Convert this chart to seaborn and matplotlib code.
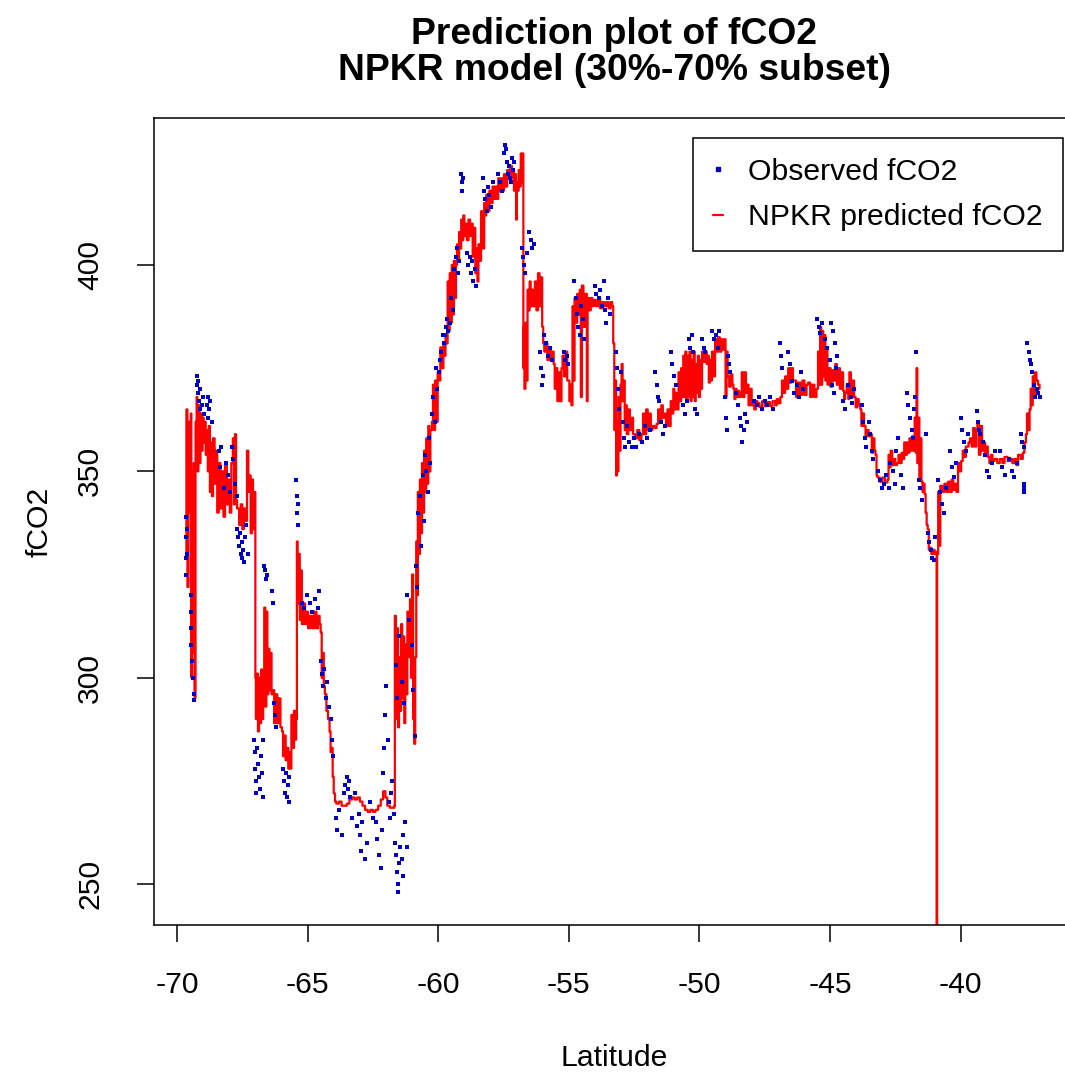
import matplotlib
matplotlib.use("Agg")
import matplotlib.pyplot as plt
from matplotlib.lines import Line2D
import seaborn as sns
import pandas as pd

# ---------------- data ----------------
x_ticks = [-70, -65, -60, -55, -50, -45, -40]
y_ticks = [250, 300, 350, 400]
title_text = "Prediction plot of fCO2\nNPKR model (30%-70% subset)"
x_label = "Latitude"
y_label = "fCO2"
legend_labels = ["Observed fCO2", "NPKR predicted fCO2"]

# NPKR predicted fCO2 (latitude, fCO2), in drawing order
pred_seg1 = [
    (-69.66, 330), (-69.64, 365), (-69.60, 322), (-69.56, 362), (-69.52, 340), (-69.47, 364),
    (-69.45, 300), (-69.43, 350), (-69.40, 306), (-69.36, 352), (-69.33, 295), (-69.29, 362),
    (-69.25, 368), (-69.22, 350), (-69.18, 366), (-69.14, 352), (-69.10, 364), (-69.06, 355),
    (-69.02, 363), (-68.98, 357), (-68.94, 362), (-68.90, 354), (-68.86, 360), (-68.82, 350),
    (-68.78, 361), (-68.74, 345), (-68.70, 357), (-68.66, 344), (-68.62, 358), (-68.56, 347),
    (-68.52, 355), (-68.46, 340), (-68.40, 352), (-68.34, 341), (-68.28, 350), (-68.22, 339),
    (-68.16, 352), (-68.09, 342), (-68.04, 348), (-67.98, 340), (-67.92, 352), (-67.86, 358),
    (-67.82, 342), (-67.78, 359), (-67.74, 343), (-67.70, 341), (-67.62, 337), (-67.56, 342),
    (-67.50, 336), (-67.44, 341), (-67.38, 338), (-67.32, 355), (-67.27, 345), (-67.22, 349),
    (-67.18, 335), (-67.13, 348), (-67.09, 336), (-67.04, 345), (-67.00, 300),
]
pred_seg2 = [
    (-66.98, 290), (-66.94, 301), (-66.90, 287), (-66.86, 300), (-66.82, 289), (-66.78, 302),
    (-66.74, 290), (-66.70, 300), (-66.66, 317), (-66.62, 293), (-66.58, 316), (-66.54, 296),
    (-66.50, 307), (-66.46, 297), (-66.42, 306), (-66.38, 296), (-66.33, 297), (-66.28, 289),
    (-66.22, 296), (-66.16, 289), (-66.10, 295), (-66.04, 288), (-65.98, 287), (-65.94, 281),
    (-65.90, 286), (-65.84, 280), (-65.80, 283), (-65.74, 278), (-65.70, 282), (-65.66, 278),
    (-65.62, 291), (-65.56, 283), (-65.52, 292), (-65.48, 285), (-65.44, 290), (-65.41, 333),
    (-65.38, 318), (-65.34, 330), (-65.30, 314), (-65.26, 326), (-65.22, 313), (-65.16, 318),
    (-65.10, 313), (-65.04, 316), (-64.98, 312), (-64.90, 315), (-64.82, 312), (-64.74, 316),
    (-64.66, 312), (-64.60, 315), (-64.54, 313), (-64.50, 311), (-64.46, 300), (-64.42, 306),
    (-64.38, 298), (-64.34, 296), (-64.28, 292), (-64.22, 290), (-64.16, 287), (-64.12, 282),
    (-64.08, 283), (-64.04, 276), (-64.00, 272), (-63.95, 270),
]
pred_seg3 = [
    (-63.90, 269.5), (-63.80, 270), (-63.70, 269), (-63.60, 269), (-63.50, 269.5), (-63.40, 270.5),
    (-63.30, 271), (-63.20, 270.5), (-63.10, 271), (-63.00, 270), (-62.90, 269), (-62.80, 268),
    (-62.70, 267.5), (-62.60, 268), (-62.50, 267.5), (-62.40, 268), (-62.30, 269), (-62.20, 270.5),
    (-62.11, 272.5), (-62.02, 271), (-61.95, 269), (-61.85, 268.5), (-61.75, 268.5), (-61.68, 269),
    (-61.66, 315), (-61.62, 290), (-61.58, 312), (-61.54, 288), (-61.50, 305), (-61.46, 292),
    (-61.42, 313), (-61.38, 295), (-61.34, 310), (-61.30, 289), (-61.26, 308), (-61.22, 296),
    (-61.18, 316), (-61.12, 305), (-61.08, 319), (-61.04, 300), (-61.00, 325), (-60.96, 290),
    (-60.92, 284), (-60.88, 305), (-60.84, 333), (-60.81, 320), (-60.78, 345), (-60.74, 330),
    (-60.70, 348), (-60.66, 335), (-60.62, 352), (-60.58, 340), (-60.54, 355), (-60.50, 345),
    (-60.46, 358), (-60.42, 347), (-60.38, 361), (-60.34, 350), (-60.30, 360), (-60.24, 362),
    (-60.20, 371), (-60.16, 360), (-60.12, 372), (-60.06, 362), (-60.02, 374), (-59.96, 372),
    (-59.92, 380), (-59.86, 375), (-59.80, 381), (-59.76, 378), (-59.72, 383), (-59.68, 381),
]
pred_seg4 = [
    (-59.64, 396), (-59.60, 384), (-59.56, 398), (-59.52, 386), (-59.48, 400), (-59.44, 388),
    (-59.40, 401), (-59.36, 392), (-59.32, 400), (-59.28, 405), (-59.24, 401), (-59.20, 408),
    (-59.16, 404), (-59.12, 411), (-59.08, 406), (-59.04, 412), (-59.00, 407), (-58.94, 410),
    (-58.90, 406), (-58.84, 411), (-58.78, 407), (-58.72, 410), (-58.68, 402), (-58.64, 409),
    (-58.58, 398), (-58.54, 404), (-58.50, 396), (-58.46, 405), (-58.40, 401), (-58.36, 413),
    (-58.30, 404), (-58.24, 415), (-58.20, 412), (-58.16, 417), (-58.10, 413), (-58.04, 418),
    (-57.98, 415), (-57.92, 419), (-57.86, 416), (-57.80, 419), (-57.74, 416), (-57.70, 421),
    (-57.64, 418), (-57.58, 421), (-57.52, 418), (-57.48, 422), (-57.42, 419), (-57.36, 423),
    (-57.30, 421), (-57.24, 424), (-57.18, 421), (-57.14, 423), (-57.10, 418), (-57.06, 422),
    (-57.02, 411), (-56.99, 420), (-56.96, 418), (-56.92, 423), (-56.88, 419), (-56.84, 427),
    (-56.80, 420), (-56.76, 427), (-56.74, 375), (-56.72, 385), (-56.70, 370), (-56.66, 386),
    (-56.62, 372), (-56.58, 394), (-56.54, 389), (-56.50, 396), (-56.46, 390), (-56.42, 394),
    (-56.36, 390), (-56.30, 396), (-56.24, 389), (-56.18, 398), (-56.12, 390), (-56.06, 397),
    (-56.02, 385), (-55.98, 381), (-55.94, 379), (-55.88, 381), (-55.82, 377), (-55.76, 380),
    (-55.70, 377), (-55.64, 379), (-55.58, 376), (-55.54, 370), (-55.50, 375), (-55.44, 367),
    (-55.40, 374), (-55.34, 367), (-55.28, 375), (-55.24, 378), (-55.18, 373), (-55.12, 379),
    (-55.06, 372), (-55.02, 372), (-54.98, 367), (-54.94, 371), (-54.90, 366), (-54.86, 390),
    (-54.82, 372), (-54.78, 392), (-54.74, 386), (-54.68, 393), (-54.62, 388), (-54.58, 394),
    (-54.54, 368), (-54.50, 395), (-54.44, 385), (-54.38, 393), (-54.31, 367), (-54.28, 392),
    (-54.22, 389), (-54.16, 392), (-54.10, 390), (-54.04, 391.5), (-53.96, 390), (-53.88, 392),
    (-53.80, 389.5), (-53.72, 391), (-53.64, 390), (-53.56, 391), (-53.48, 389.5), (-53.40, 391),
    (-53.34, 390), (-53.30, 381), (-53.26, 360), (-53.22, 372), (-53.19, 349), (-53.16, 362),
    (-53.13, 350), (-53.10, 368), (-53.06, 355),
]
pred_seg5 = [
    (-53.02, 371), (-52.98, 376), (-52.94, 367), (-52.90, 372), (-52.86, 360), (-52.82, 366),
    (-52.78, 359), (-52.72, 365), (-52.66, 360), (-52.60, 363), (-52.54, 359), (-52.46, 358),
    (-52.38, 360), (-52.30, 357.5), (-52.22, 359), (-52.16, 364), (-52.10, 359), (-52.04, 365),
    (-51.98, 360), (-51.92, 364), (-51.86, 360), (-51.80, 361), (-51.72, 360.5), (-51.64, 361.5),
    (-51.58, 365), (-51.52, 362), (-51.46, 366), (-51.40, 363), (-51.34, 364), (-51.28, 361),
    (-51.22, 365), (-51.16, 361), (-51.10, 367), (-51.06, 364), (-51.00, 370), (-50.96, 365),
    (-50.92, 369), (-50.86, 365), (-50.80, 374), (-50.76, 367), (-50.70, 375), (-50.66, 368),
    (-50.62, 378), (-50.58, 368), (-50.54, 379), (-50.50, 367), (-50.46, 378), (-50.42, 368),
    (-50.38, 379), (-50.34, 367), (-50.30, 377), (-50.26, 368), (-50.22, 379), (-50.18, 367),
    (-50.14, 376), (-50.10, 369), (-50.06, 378), (-50.02, 368), (-49.98, 377), (-49.94, 370),
    (-49.90, 379), (-49.84, 376.5), (-49.78, 379), (-49.72, 376), (-49.68, 378), (-49.64, 371.5),
    (-49.60, 377), (-49.56, 372), (-49.52, 379), (-49.46, 373), (-49.40, 382), (-49.34, 379),
    (-49.28, 382.5), (-49.22, 379), (-49.16, 382), (-49.10, 379.5), (-49.04, 382), (-49.00, 368),
    (-48.96, 379), (-48.92, 373), (-48.86, 370.5), (-48.80, 373.5), (-48.74, 371), (-48.70, 370),
    (-48.66, 367.5), (-48.62, 370), (-48.58, 368), (-48.54, 369.5), (-48.48, 368), (-48.42, 369),
    (-48.38, 374), (-48.34, 368), (-48.28, 374), (-48.22, 369), (-48.18, 371), (-48.12, 366),
    (-48.06, 370), (-48.00, 366), (-47.96, 366.5), (-47.90, 365), (-47.84, 367), (-47.78, 366.5),
    (-47.70, 365.6), (-47.60, 367), (-47.50, 365.8), (-47.40, 366.8), (-47.30, 365.8), (-47.20, 367),
    (-47.10, 366), (-47.04, 367.5), (-46.98, 366.5), (-46.90, 368), (-46.84, 372), (-46.78, 369),
    (-46.72, 373), (-46.66, 370), (-46.60, 375), (-46.54, 371.5), (-46.48, 375), (-46.42, 372),
    (-46.38, 372), (-46.30, 368), (-46.22, 371.5), (-46.14, 368.5), (-46.06, 372), (-45.98, 368.5),
    (-45.90, 371), (-45.84, 371.5), (-45.76, 368), (-45.68, 371), (-45.60, 368), (-45.52, 370),
    (-45.46, 379), (-45.42, 371), (-45.38, 385), (-45.34, 371), (-45.30, 384), (-45.26, 373),
    (-45.22, 383), (-45.18, 372), (-45.14, 380), (-45.10, 371), (-45.04, 375), (-44.98, 370.5),
    (-44.92, 374.5), (-44.86, 372), (-44.80, 376), (-44.74, 371), (-44.68, 375), (-44.62, 370),
    (-44.56, 374), (-44.50, 369.5), (-44.46, 367.5), (-44.42, 369), (-44.36, 371), (-44.30, 367.5),
    (-44.26, 374), (-44.20, 368), (-44.14, 372), (-44.08, 368), (-44.02, 365.5), (-43.96, 367.5),
    (-43.90, 366),
]
pred_seg6 = [
    (-43.84, 365), (-43.80, 361), (-43.76, 364), (-43.70, 361), (-43.64, 358.5), (-43.58, 360),
    (-43.52, 358.5), (-43.46, 359), (-43.40, 354.5), (-43.36, 358), (-43.30, 355), (-43.26, 354),
    (-43.22, 349), (-43.18, 348.5), (-43.10, 347.5), (-43.00, 348.5), (-42.90, 347.3), (-42.80, 348),
    (-42.76, 354), (-42.72, 351), (-42.68, 355), (-42.62, 351.5), (-42.56, 353), (-42.50, 351.5),
    (-42.44, 352), (-42.38, 354), (-42.32, 352), (-42.26, 354.5), (-42.22, 353), (-42.16, 357),
    (-42.10, 354), (-42.06, 357), (-42.02, 354.5), (-41.96, 358), (-41.90, 355), (-41.86, 358.5),
    (-41.80, 355), (-41.76, 363), (-41.72, 354.5), (-41.69, 375), (-41.66, 352), (-41.62, 363),
    (-41.58, 348), (-41.54, 358), (-41.50, 347.5), (-41.46, 345), (-41.42, 347), (-41.38, 344.5),
    (-41.34, 340), (-41.30, 337), (-41.26, 336), (-41.22, 331), (-41.18, 331.5), (-41.12, 330),
    (-41.06, 331), (-41.00, 330), (-40.94, 330.5), (-40.92, 150), (-40.90, 330), (-40.86, 345),
    (-40.82, 332), (-40.78, 346.5), (-40.70, 345), (-40.62, 347), (-40.54, 345), (-40.48, 347.5),
    (-40.40, 345), (-40.34, 348), (-40.28, 345.5), (-40.22, 347), (-40.16, 345), (-40.10, 352),
    (-40.04, 350), (-39.98, 352.5), (-39.92, 355), (-39.86, 353.5), (-39.80, 356), (-39.76, 356),
    (-39.70, 357), (-39.64, 358), (-39.58, 356), (-39.52, 360.5), (-39.46, 356), (-39.40, 360),
    (-39.36, 362), (-39.30, 354), (-39.24, 361), (-39.18, 355), (-39.12, 357), (-39.06, 354),
    (-39.00, 356), (-38.96, 353.5), (-38.90, 352), (-38.84, 354), (-38.78, 352.5), (-38.70, 353),
    (-38.60, 352), (-38.50, 353), (-38.40, 352), (-38.32, 353.5), (-38.20, 352.5), (-38.10, 353),
    (-38.02, 352), (-37.94, 353), (-37.86, 351.5), (-37.80, 354), (-37.70, 353), (-37.62, 354.5),
    (-37.56, 357), (-37.50, 359), (-37.46, 364), (-37.40, 360), (-37.36, 365), (-37.32, 370),
    (-37.28, 366), (-37.24, 373), (-37.20, 368), (-37.16, 374), (-37.10, 372), (-37.04, 371),
    (-36.98, 370),
]

# Observed fCO2 (latitude, fCO2)
obs_seg1 = [
    (-69.66, 339), (-69.66, 334), (-69.66, 329), (-69.66, 325), (-69.62, 336), (-69.62, 330),
    (-69.45, 320), (-69.45, 316), (-69.45, 312), (-69.45, 308), (-69.43, 304), (-69.40, 300),
    (-69.36, 296), (-69.35, 294.5), (-69.25, 373), (-69.22, 371), (-69.20, 369), (-69.18, 372),
    (-69.15, 367), (-69.12, 365), (-69.10, 370), (-69.06, 366), (-69.02, 368), (-68.98, 364),
    (-68.86, 366), (-68.82, 368), (-68.80, 363), (-68.76, 365), (-68.72, 367), (-68.66, 362),
    (-68.40, 355), (-68.36, 351), (-68.30, 356), (-68.20, 346), (-68.12, 352), (-68.05, 349),
    (-67.98, 345), (-67.90, 356), (-67.86, 353), (-67.78, 347), (-67.72, 344), (-67.70, 336),
    (-67.66, 334), (-67.62, 332), (-67.60, 335), (-67.56, 330), (-67.52, 333), (-67.50, 329),
    (-67.46, 331), (-67.42, 328), (-67.38, 334), (-67.34, 337), (-67.30, 330),
    (-67.06, 285), (-67.02, 282), (-67.00, 278), (-66.98, 275), (-66.96, 272), (-66.94, 283),
    (-66.90, 279), (-66.86, 276), (-66.82, 273), (-66.80, 281), (-66.76, 277), (-66.72, 285),
    (-66.70, 271), (-66.66, 327), (-66.62, 326), (-66.60, 324), (-66.56, 325), (-66.36, 321),
    (-66.33, 318), (-66.28, 294), (-66.25, 291), (-66.22, 288), (-65.94, 278), (-65.90, 275),
    (-65.86, 272), (-65.84, 277), (-65.80, 271), (-65.76, 274), (-65.72, 276), (-65.70, 270),
    (-65.44, 348), (-65.42, 344), (-65.40, 340), (-65.38, 337), (-65.36, 342), (-65.22, 318),
    (-65.12, 317), (-65.02, 320), (-64.92, 318), (-64.84, 316), (-64.72, 319), (-64.62, 317),
    (-64.56, 321), (-64.50, 304), (-64.46, 301), (-64.40, 298), (-64.36, 302), (-64.30, 295),
    (-64.24, 299), (-64.18, 293), (-64.12, 290), (-64.06, 285), (-64.02, 281),
]
obs_seg2 = [
    (-63.90, 266), (-63.86, 263), (-63.80, 268), (-63.70, 262), (-63.60, 272), (-63.55, 274),
    (-63.50, 276), (-63.46, 273), (-63.42, 275), (-63.38, 271), (-63.30, 266), (-63.20, 272),
    (-63.10, 264), (-63.04, 267), (-63.00, 262), (-62.96, 258), (-62.90, 265), (-62.80, 256),
    (-62.74, 260), (-62.60, 270), (-62.50, 266), (-62.40, 265), (-62.34, 261), (-62.28, 257),
    (-62.20, 254), (-62.14, 263), (-62.10, 277), (-62.06, 283), (-62.02, 291), (-61.98, 298),
    (-61.94, 285), (-61.90, 270), (-61.86, 266), (-61.80, 272), (-61.76, 275), (-61.70, 267),
    (-61.66, 260), (-61.62, 257), (-61.58, 253), (-61.55, 250), (-61.52, 248), (-61.50, 255),
    (-61.46, 259), (-61.40, 256), (-61.36, 252), (-61.34, 262), (-61.26, 265), (-61.20, 259),
    (-61.62, 303), (-61.56, 295), (-61.50, 310), (-61.40, 299), (-61.30, 294), (-61.20, 320),
    (-61.10, 314), (-61.02, 308), (-60.96, 297), (-60.88, 286),
    (-60.84, 327), (-60.80, 322), (-60.76, 340), (-60.70, 344), (-60.66, 332), (-60.60, 349),
    (-60.56, 338), (-60.50, 354), (-60.46, 350), (-60.40, 345), (-60.36, 358), (-60.30, 352),
    (-60.24, 364), (-60.20, 368), (-60.14, 362), (-60.10, 375), (-60.04, 370), (-59.98, 374),
    (-59.94, 377), (-59.88, 379), (-59.82, 383), (-59.78, 381), (-59.74, 383), (-59.70, 385),
    (-59.66, 387), (-59.62, 384), (-59.56, 386), (-59.50, 392), (-59.44, 389), (-59.38, 399),
    (-59.32, 402), (-59.28, 404), (-59.24, 398), (-59.20, 401),
]
obs_seg3 = [
    (-59.12, 422), (-59.10, 420), (-59.08, 418), (-59.06, 421), (-58.90, 403), (-58.86, 400),
    (-58.80, 402), (-58.74, 398), (-58.70, 401), (-58.66, 396), (-58.60, 399), (-58.56, 395),
    (-58.30, 421), (-58.24, 418), (-58.20, 416), (-58.14, 413), (-58.10, 419), (-58.04, 417),
    (-57.96, 414), (-57.90, 420), (-57.70, 422), (-57.62, 420), (-57.56, 418), (-57.50, 427),
    (-57.46, 429), (-57.42, 428), (-57.38, 425), (-57.34, 422), (-57.30, 424), (-57.26, 421),
    (-57.20, 420), (-57.16, 426), (-57.12, 423), (-57.08, 425), (-56.80, 404), (-56.76, 402),
    (-56.70, 400), (-56.66, 398), (-56.60, 403), (-56.52, 408), (-56.46, 406), (-56.40, 404),
    (-56.34, 405), (-56.10, 379), (-56.06, 375), (-56.02, 371), (-55.98, 373), (-55.94, 383),
    (-55.86, 381), (-55.80, 378), (-55.72, 380), (-55.66, 377), (-55.20, 379), (-55.14, 377),
    (-55.08, 378), (-55.04, 376), (-54.80, 396), (-54.74, 392), (-54.70, 388), (-54.64, 385),
    (-54.58, 383), (-54.52, 390), (-54.46, 387), (-54.40, 382), (-54.00, 395), (-53.94, 393),
    (-53.86, 392), (-53.80, 394), (-53.72, 390), (-53.66, 396), (-53.60, 389), (-53.56, 386),
    (-53.50, 392), (-53.44, 388),
]
obs_seg4 = [
    (-53.20, 379), (-53.16, 375), (-53.12, 370), (-53.06, 365), (-53.00, 374), (-52.94, 362),
    (-52.88, 358), (-52.84, 356), (-52.78, 361), (-52.70, 357), (-52.60, 356), (-52.52, 358),
    (-52.42, 356), (-52.30, 359), (-52.20, 357), (-52.10, 361), (-52.02, 358), (-51.90, 360),
    (-51.70, 374), (-51.64, 371), (-51.60, 368), (-51.54, 367), (-51.46, 362), (-51.40, 359),
    (-51.32, 361), (-51.10, 379), (-51.04, 376), (-50.98, 373), (-50.90, 371), (-50.62, 366),
    (-50.56, 364), (-50.46, 367), (-50.40, 382), (-50.36, 380), (-50.30, 383), (-50.24, 379),
    (-50.18, 365), (-50.10, 364), (-49.90, 382), (-49.84, 380), (-49.78, 379), (-49.50, 384),
    (-49.44, 382), (-49.36, 383), (-49.30, 380), (-49.24, 384), (-49.02, 368), (-48.98, 363),
    (-48.96, 360), (-48.90, 378), (-48.86, 376), (-48.82, 374), (-48.60, 369), (-48.52, 366),
    (-48.46, 363), (-48.40, 361), (-48.36, 357), (-48.30, 360), (-48.24, 364), (-48.18, 362),
    (-47.90, 367), (-47.80, 366), (-47.70, 368), (-47.60, 365), (-47.50, 367), (-47.40, 366),
    (-47.30, 368), (-47.20, 365), (-46.92, 381), (-46.88, 378), (-46.84, 375), (-46.60, 379),
    (-46.52, 376), (-46.44, 372), (-46.36, 369), (-46.28, 371), (-46.20, 368), (-46.12, 374),
    (-46.02, 370), (-45.48, 387), (-45.44, 385), (-45.40, 383.5), (-45.30, 386), (-45.20, 382),
    (-45.10, 380), (-45.02, 377), (-44.94, 371), (-44.86, 369), (-44.78, 375), (-44.96, 386),
    (-44.90, 384), (-44.80, 381), (-44.74, 378),
]
obs_seg5 = [
    (-44.52, 367), (-44.44, 365), (-44.30, 371), (-44.20, 368), (-44.14, 366.6), (-44.10, 370),
    (-43.78, 366), (-43.74, 362), (-43.68, 358), (-43.62, 356), (-43.52, 362), (-43.46, 359),
    (-43.40, 355), (-43.34, 353), (-43.16, 350), (-43.08, 348), (-43.00, 346), (-42.92, 347),
    (-42.84, 349), (-42.76, 346), (-42.70, 352), (-42.60, 350), (-42.52, 347), (-42.46, 355),
    (-42.40, 358), (-42.30, 349), (-42.22, 346), (-42.06, 369), (-42.00, 366), (-41.94, 363),
    (-41.88, 360), (-41.82, 358), (-41.78, 365), (-41.74, 368), (-41.70, 379), (-41.60, 348),
    (-41.54, 346), (-41.46, 343), (-41.32, 359), (-41.26, 335), (-41.20, 333), (-41.14, 331),
    (-41.08, 329), (-41.02, 328.6), (-40.98, 334), (-40.86, 348), (-40.80, 345), (-40.72, 342),
    (-40.64, 340), (-40.56, 346), (-40.40, 355), (-40.32, 351), (-40.26, 348.6), (-40.18, 352),
    (-40.00, 363), (-39.94, 360), (-39.86, 357), (-39.78, 355), (-39.70, 359), (-39.38, 364.6),
    (-39.34, 362), (-39.30, 360), (-39.26, 359), (-39.16, 357), (-39.08, 354), (-38.98, 350),
    (-38.90, 348.6), (-38.80, 352), (-38.70, 355), (-38.50, 355), (-38.40, 351), (-38.30, 349),
    (-38.16, 353), (-38.04, 350), (-37.94, 348.6), (-37.84, 352), (-37.70, 359), (-37.64, 357),
    (-37.58, 356), (-37.56, 347), (-37.56, 346), (-37.56, 345), (-37.46, 381), (-37.40, 379),
    (-37.36, 377), (-37.30, 376), (-37.26, 374), (-37.20, 371), (-37.14, 368), (-37.08, 370),
    (-37.02, 369), (-36.96, 368),
]

# ---------------- build tables ----------------
pred_points = pred_seg1 + pred_seg2 + pred_seg3 + pred_seg4 + pred_seg5 + pred_seg6
obs_points = obs_seg1 + obs_seg2 + obs_seg3 + obs_seg4 + obs_seg5
pred_df = pd.DataFrame(pred_points, columns=["lat", "fco2"])
obs_df = pd.DataFrame(obs_points, columns=["lat", "fco2"])

# ---------------- style ----------------
sns.set_theme(style="white")
plt.rcParams["font.family"] = ["Liberation Sans", "DejaVu Sans"]
plt.rcParams["axes.edgecolor"] = "black"
plt.rcParams["text.color"] = "black"

W, H = 1065, 1075
fig = plt.figure(figsize=(W / 100, H / 100), dpi=100)
ax = fig.add_axes([154 / W, 1 - 925 / H, 920 / W, 807 / H])

RED = "#FF0000"
BLUE = "#0000C8"

sns.lineplot(data=pred_df, x="lat", y="fco2", sort=False, estimator=None,
             color=RED, linewidth=1.6, drawstyle="steps-post", ax=ax, zorder=2)
sns.scatterplot(data=obs_df, x="lat", y="fco2", marker="s", s=6.5, linewidth=0,
                color=BLUE, ax=ax, zorder=3)

ax.set_xlim(-70.88, -35.66)
ax.set_ylim(240.1, 435.6)
ax.set_xticks(x_ticks)
ax.set_xticklabels([str(t) for t in x_ticks])
ax.set_yticks(y_ticks)
ax.set_yticklabels([str(t) for t in y_ticks], rotation=90, va="center")

for s in ax.spines.values():
    s.set_color("black")
    s.set_linewidth(1.1)
ax.tick_params(axis="both", which="major", direction="out", length=12, width=1.1,
               color="black", labelsize=21.7, labelcolor="black", pad=21,
               bottom=True, left=True, top=False, right=False)
ax.tick_params(axis="y", pad=24)

ax.set_xlabel(x_label, fontsize=21.7, color="black")
ax.set_ylabel(y_label, fontsize=21.7, color="black")
ax.xaxis.set_label_coords(0.5, (925 - 1058) / 807)
ax.xaxis.label.set_verticalalignment("center")
ax.yaxis.set_label_coords((40 - 154) / 920, 0.5)
ax.yaxis.label.set_verticalalignment("center")

ax.set_title(title_text, fontsize=26.8, fontweight="bold", color="black",
             linespacing=1.05, pad=27)

handles = [
    Line2D([0], [0], linestyle="none", marker="s", markersize=2.2, color=BLUE),
    Line2D([0], [0], color=RED, linewidth=1.6),
]
leg = ax.legend(handles, legend_labels, loc="upper right",
                bbox_to_anchor=(1063 / W, 1 - 138 / H), bbox_transform=fig.transFigure,
                fontsize=21.7, frameon=True, fancybox=False, framealpha=1,
                edgecolor="black", borderpad=0.66, labelspacing=0.58,
                handlelength=0.35, handletextpad=0.83, borderaxespad=0)
leg.get_frame().set_linewidth(1.1)
for t in leg.get_texts():
    t.set_color("black")

fig.savefig("out.png", dpi=100, facecolor="white")
